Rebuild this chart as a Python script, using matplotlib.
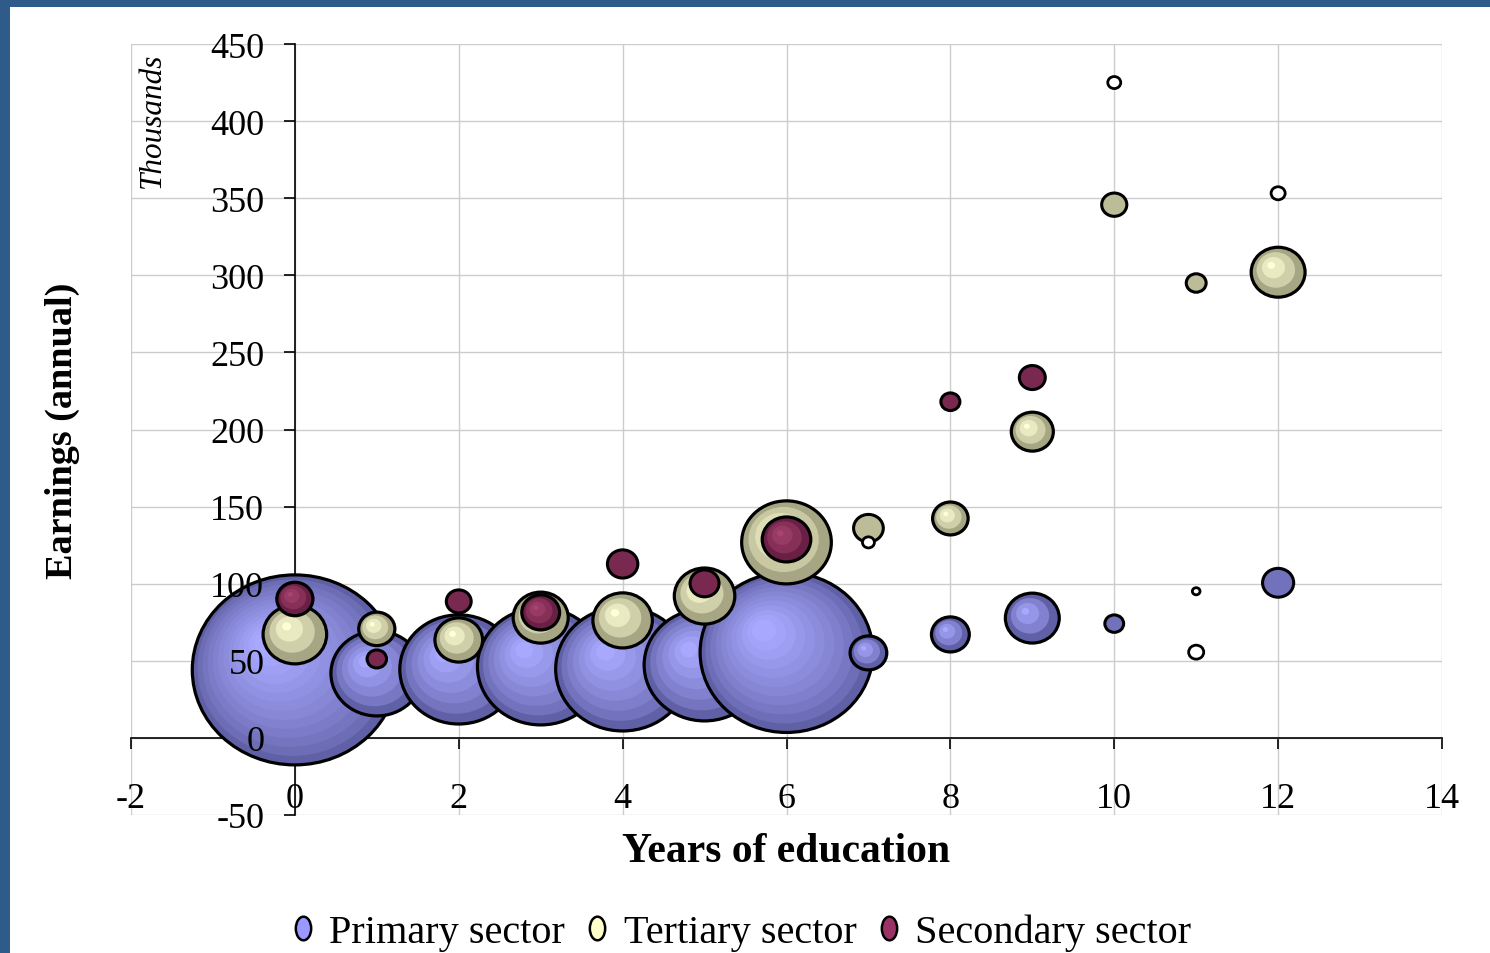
import numpy as np
import matplotlib
matplotlib.use("Agg")
import matplotlib.pyplot as plt
import matplotlib.transforms as mtransforms
from matplotlib.patches import Ellipse, Rectangle
from matplotlib.lines import Line2D
from matplotlib.path import Path
from matplotlib.colors import to_rgb

plt.rcParams['font.family'] = ['Liberation Serif', 'DejaVu Serif']
plt.rcParams['axes.unicode_minus'] = False

# data (earnings in thousands, bubble size = relative group size)
years = list(range(13))
primary_earn = [44.1, 41.8, 44.4, 46.4, 44.7, 47.3, 55.4, 55.1, 67.1, 77.7, 74.1, 95.1, 100.6]
primary_size = [100, 20.0, 33.0, 38.0, 42.6, 34.7, 70.9, 3.2, 3.4, 6.9, 0.84, 0.14, 2.3]
tertiary_earn = [67.1, 70.7, 63.5, 78.0, 76.2, 92.0, 126.8, 136.0, 142.3, 198.6, 345.8, 295.0, 302.0]
tertiary_size = [9.6, 3.1, 5.4, 7.2, 8.4, 8.7, 19.1, 2.1, 3.0, 4.2, 1.5, 0.94, 6.9]
secondary_earn = [90.1, 51.2, 88.5, 81.4, 112.8, 100.2, 128.7, 126.8, 218.0, 233.7, 425.0, 55.6, 353.2]
secondary_size = [3.1, 0.9, 1.47, 3.4, 2.2, 2.0, 5.6, 0.34, 0.86, 1.6, 0.4, 0.54, 0.47]

labels = ['Primary sector', 'Tertiary sector', 'Secondary sector']
base_colors = ['#9999ff', '#ffffcc', '#993366']
dark_colors = ['#6060a6', '#a6a684', '#6a1f45']
light_colors = ['#a8a8ff', '#ffffd6', '#a6436f']

R_MAX = 95      # px radius of the largest bubble
ASPECT = 1.08   # bubbles are a bit wider than tall
max_size = max(primary_size + tertiary_size + secondary_size)


def mix(c1, c2, t):
    a, b = np.array(to_rgb(c1)), np.array(to_rgb(c2))
    return tuple(a * (1 - t) + b * t)


def bubble(ax, x, y, size, dark, light):
    rv = R_MAX * np.sqrt(size / max_size)
    rh = rv * ASPECT
    tr = mtransforms.ScaledTranslation(x, y, ax.transData)
    if rv < 8:
        ax.add_patch(Ellipse((0, 0), 2 * rh, 2 * rv, transform=tr, fc='white',
                             ec='black', lw=2.0, zorder=2))
        return
    if rv < 15:
        ax.add_patch(Ellipse((0, 0), 2 * rh, 2 * rv, transform=tr, fc=mix(dark, light, 0.25),
                             ec='black', lw=2.2, zorder=2))
        return
    n = int(np.clip(rv / 7, 4, 13))
    hx, hy = -0.3 * rh, 0.32 * rv
    s_min = 0.14
    for s in np.linspace(1, s_min, n):
        t = ((1 - s) / (1 - s_min)) ** 0.7
        ax.add_patch(Ellipse(((1 - s) * hx, (1 - s) * hy), 2 * rh * s, 2 * rv * s,
                             transform=tr, fc=mix(dark, light, t), ec='none', zorder=2))
    ax.add_patch(Ellipse((0, 0), 2 * rh, 2 * rv, transform=tr, fc='none',
                         ec='black', lw=2.3, zorder=2))


fig = plt.figure(figsize=(14.9, 9.54), dpi=100)
fig.patch.set_facecolor('#2e5b8a')
fig.patches.append(Rectangle((10 / 1490, 0), 1, 1 - 8 / 954, transform=fig.transFigure,
                             fc='white', ec='none', zorder=-10))

pos = [131 / 1490, (954 - 816) / 954, (1442 - 131) / 1490, (816 - 45) / 954]
ax = fig.add_axes(pos)
ax.set_xlim(-2, 14)
ax.set_ylim(-50, 450)
ax.set_xticks(range(-2, 15, 2))
ax.set_yticks(range(-50, 451, 50))
ax.grid(True, color='#cccccc', lw=1.0)
ax.set_axisbelow(True)
ax.spines['top'].set_visible(False)
ax.spines['right'].set_visible(False)
for side in ['left', 'bottom']:
    ax.spines[side].set_position(('data', 0))
    ax.spines[side].set_linewidth(1.2)
    ax.spines[side].set_zorder(0.8)
ax.tick_params(labelleft=False, labelbottom=False, length=8, width=1.2, direction='out')

series = [(primary_earn, primary_size), (tertiary_earn, tertiary_size), (secondary_earn, secondary_size)]
for (earn, size), dc, lc in zip(series, dark_colors, light_colors):
    for x, y, s in zip(years, earn, size):
        bubble(ax, x, y, s, dc, lc)
ax.set_xlim(-2, 14)
ax.set_ylim(-50, 450)

# labels drawn on top of the bubbles
lab = fig.add_axes(pos, sharex=ax, sharey=ax)
lab.patch.set_visible(False)
for side in ['left', 'bottom']:
    lab.spines[side].set_position(('data', 0))
for sp in lab.spines.values():
    sp.set_visible(False)
lab.tick_params(axis='x', length=0, labelsize=26, pad=32)
lab.tick_params(axis='y', length=0, labelsize=26, pad=22)
lab.set_xlabel('Years of education', fontsize=30, fontweight='bold')
lab.xaxis.set_label_coords(0.5, -0.022)
lab.set_ylabel('Earnings (annual)', fontsize=27.5, fontweight='bold')
lab.yaxis.set_label_coords(-0.039, 0.5)
lab.text(0.016, 0.99, 'Thousands', transform=lab.transAxes, rotation=90,
         ha='center', va='top', fontsize=22.5, style='italic')

oval = Path.unit_circle().transformed(mtransforms.Affine2D().scale(0.65, 1))
handles = [Line2D([], [], ls='none', marker=oval, markersize=17, markerfacecolor=c,
                  markeredgecolor='black', markeredgewidth=1.8) for c in base_colors]
fig.legend(handles, labels, loc='center', bbox_to_anchor=(740 / 1490, 1 - 933 / 954),
           ncol=3, frameon=False, fontsize=29, handlelength=0.7, handletextpad=0.3,
           columnspacing=0.45)

fig.savefig('out.png', dpi=100, facecolor=fig.get_facecolor())
